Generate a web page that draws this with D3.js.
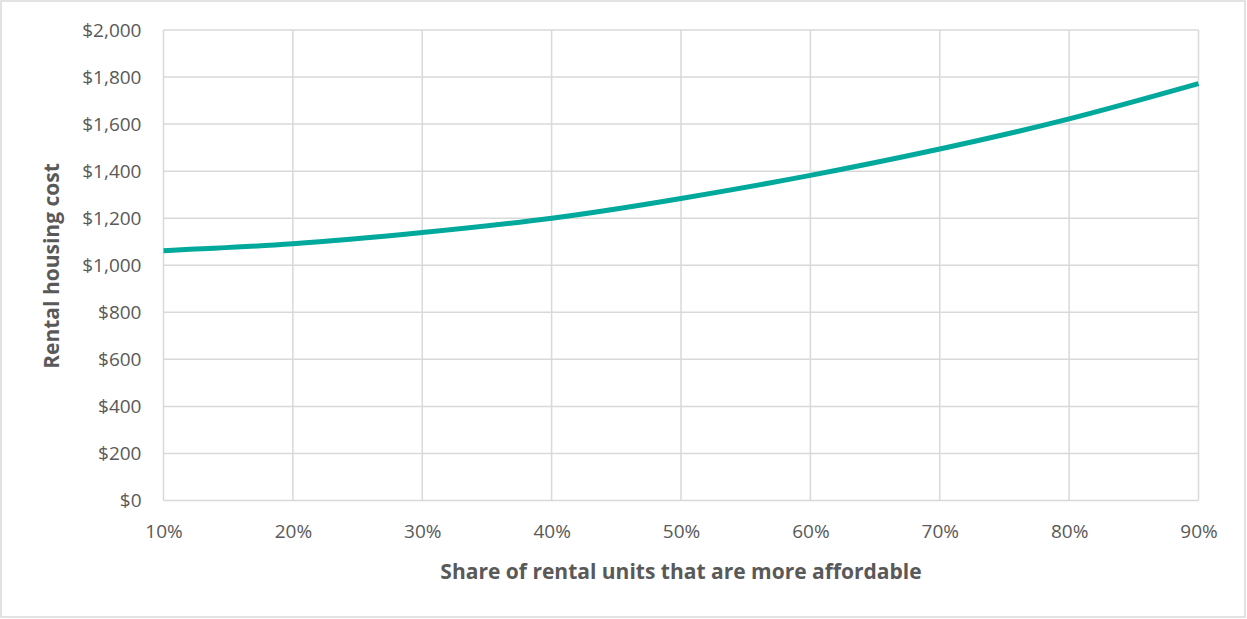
<!DOCTYPE html>
<html>
<head>
<meta charset="utf-8">
<script src="https://cdn.jsdelivr.net/npm/d3@7"></script>
<style>
  body { margin: 0; background: #fff; }
  text { font-family: "Open Sans", "Liberation Sans", sans-serif; fill: #595959; }
</style>
</head>
<body>
<div id="chart"></div>
<script>
// share of rental units that are more affordable (%), and rent at that point ($)
let shares = [10, 20, 30, 40, 50, 60, 70, 80, 90];
let costs = [1062, 1091, 1139, 1200, 1284, 1382, 1494, 1622, 1772];
let x_ticks = [10, 20, 30, 40, 50, 60, 70, 80, 90];
let y_ticks = [0, 200, 400, 600, 800, 1000, 1200, 1400, 1600, 1800, 2000];

let width = 1247, height = 619;
let margin = {top: 30, right: 48, bottom: 118, left: 163.5};

let svg = d3.select("#chart")
    .append("svg")
    .attr("width", width)
    .attr("height", height);

// outer chart frame
svg.append("rect")
    .attr("x", 1).attr("y", 1)
    .attr("width", width - 3).attr("height", height - 3)
    .attr("fill", "none")
    .attr("stroke", "#d9d9d9")
    .attr("stroke-width", 1.5);

let g = svg.append("g")
    .attr("transform", `translate(${margin.left}, ${margin.top})`);

let plot_w = 1198.5 - margin.left, plot_h = 500.5 - margin.top;

let x = d3.scaleLinear().domain([10, 90]).range([0, plot_w]);
let y = d3.scaleLinear().domain([0, 2000]).range([plot_h, 0]);

// gridlines
g.append("g")
    .selectAll("line")
    .data(y_ticks)
    .enter()
    .append("line")
    .attr("x1", 0).attr("x2", plot_w)
    .attr("y1", d => y(d)).attr("y2", d => y(d))
    .attr("stroke", "#d9d9d9")
    .attr("stroke-width", 1.5);

g.append("g")
    .selectAll("line")
    .data(x_ticks)
    .enter()
    .append("line")
    .attr("x1", d => x(d)).attr("x2", d => x(d))
    .attr("y1", 0).attr("y2", plot_h)
    .attr("stroke", "#d9d9d9")
    .attr("stroke-width", 1.5);

// axes (labels only)
let yAxis = g.append("g")
    .call(d3.axisLeft(y).tickValues(y_ticks).tickSize(0).tickPadding(22)
        .tickFormat(d => "$" + d3.format(",")(d)));
let xAxis = g.append("g")
    .attr("transform", `translate(0, ${plot_h})`)
    .call(d3.axisBottom(x).tickValues(x_ticks).tickSize(0).tickPadding(20)
        .tickFormat(d => d + "%"));

[yAxis, xAxis].forEach(function(a) {
    a.select(".domain").remove();
    a.selectAll("text")
        .style("font-size", "19px")
        .style("font-family", "'Open Sans', 'Liberation Sans', sans-serif")
        .attr("fill", "#595959");
});
xAxis.selectAll("text").attr("dy", "0.35em").attr("y", 31);

// the curve
let line = d3.line()
    .x((d, i) => x(shares[i]))
    .y(d => y(d))
    .curve(d3.curveNatural);

g.append("path")
    .datum(costs)
    .attr("fill", "none")
    .attr("stroke", "#00a99b")
    .attr("stroke-width", 5)
    .attr("d", line);

// axis titles
svg.append("text")
    .attr("x", 681)
    .attr("y", 572)
    .attr("dy", "0.35em")
    .style("text-anchor", "middle")
    .style("font-size", "21px")
    .attr("font-weight", 700)
    .text("Share of rental units that are more affordable");

svg.append("text")
    .attr("transform", `translate(52, 266) rotate(-90)`)
    .attr("dy", "0.35em")
    .style("text-anchor", "middle")
    .style("font-size", "21px")
    .attr("font-weight", 700)
    .text("Rental housing cost");
</script>
</body>
</html>
